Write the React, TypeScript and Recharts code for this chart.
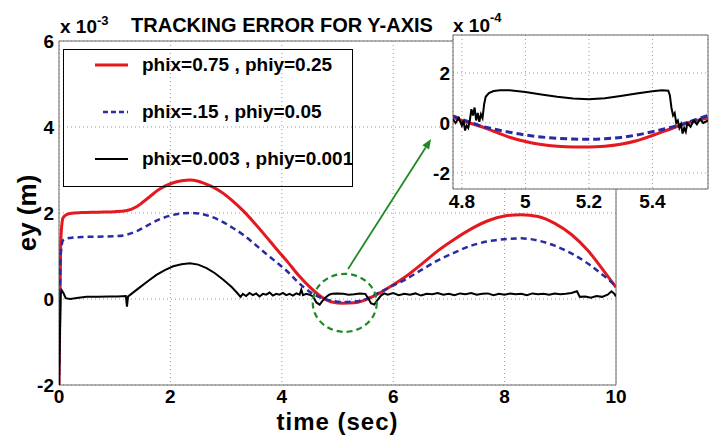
import React from 'react';
import {
  LineChart, Line, XAxis, YAxis, CartesianGrid, ReferenceArea, ReferenceDot, ReferenceLine, Legend,
} from 'recharts';

const FONT = '"Liberation Sans", Arial, Helvetica, sans-serif';

// ---------- main plot data (ey in units of 1e-3 m) ----------
const tMain = [
  0, 0.03, 0.07, 0.12, 0.2, 0.4, 0.7, 1.0, 1.2, 1.4,
  1.6, 1.8, 2.0, 2.2, 2.35, 2.5, 2.7, 2.9, 3.1, 3.3,
  3.5, 3.7, 3.9, 4.1, 4.3, 4.5, 4.7, 4.9, 5.1, 5.3,
  5.5, 5.7, 5.9, 6.2, 6.5, 6.8, 7.1, 7.4, 7.7, 8.0,
  8.3, 8.6, 8.9, 9.2, 9.5, 9.8, 10,
];
const redMain = [
  -2.0, 1.3, 1.88, 1.95, 1.99, 2.01, 2.02, 2.03, 2.05, 2.15,
  2.35, 2.55, 2.68, 2.75, 2.77, 2.74, 2.64, 2.5, 2.3, 2.06,
  1.78, 1.48, 1.17, 0.87, 0.55, 0.28, 0.06, -0.07, -0.1, -0.09,
  -0.02, 0.1, 0.25, 0.5, 0.8, 1.12, 1.39, 1.63, 1.82, 1.93,
  1.96, 1.92, 1.76, 1.5, 1.12, 0.62, 0.27,
];
const blueMain = [
  -2.0, 1.0, 1.36, 1.4, 1.42, 1.44, 1.45, 1.46, 1.49, 1.58,
  1.72, 1.85, 1.94, 1.99, 2.0, 1.99, 1.93, 1.82, 1.67, 1.5,
  1.29, 1.07, 0.86, 0.64, 0.38, 0.17, 0.03, -0.04, -0.07, -0.06,
  -0.01, 0.12, 0.25, 0.44, 0.67, 0.9, 1.08, 1.24, 1.34, 1.39,
  1.41, 1.36, 1.24, 1.06, 0.82, 0.52, 0.3,
];
const tBlack = [
  0, 0.03, 0.05, 0.08, 0.12, 0.2, 0.35, 0.5, 0.7, 0.9,
  1.05, 1.2, 1.22, 1.24, 1.3, 1.45, 1.6, 1.75, 1.9, 2.05,
  2.2, 2.35, 2.5, 2.65, 2.8, 2.95, 3.1, 3.2, 3.26, 3.3,
  3.36, 3.42, 3.48, 3.54, 3.6, 3.66, 3.72, 3.78, 3.84, 3.9,
  3.96, 4.02, 4.08, 4.14, 4.2, 4.26, 4.32, 4.35, 4.38, 4.44,
  4.5, 4.56, 4.62, 4.68, 4.72, 4.78, 4.85, 4.9, 5.0, 5.1,
  5.2, 5.3, 5.4, 5.5, 5.55, 5.6, 5.66, 5.72, 5.78, 5.84,
  5.9, 6.0, 6.1, 6.2, 6.3, 6.4, 6.5, 6.6, 6.7, 6.8,
  6.9, 7.0, 7.1, 7.2, 7.3, 7.4, 7.5, 7.6, 7.7, 7.8,
  7.9, 8.0, 8.1, 8.2, 8.3, 8.4, 8.5, 8.6, 8.7, 8.8,
  8.9, 9.0, 9.1, 9.2, 9.3, 9.35, 9.45, 9.55, 9.65, 9.75,
  9.85, 9.92, 9.97, 10,
];
const blackMain = [
  -2.0, 0.1, 0.2, 0.14, 0.02, 0.0, 0.03, 0.05, 0.05, 0.06,
  0.06, 0.07, -0.18, 0.06, 0.12, 0.27, 0.42, 0.56, 0.67, 0.76,
  0.81, 0.83, 0.8, 0.72, 0.6, 0.45, 0.28, 0.14, 0.05, 0.12,
  0.07, 0.14, 0.09, 0.13, 0.06, 0.12, 0.1, 0.15, 0.08, 0.12,
  0.1, 0.14, 0.09, 0.12, 0.08, 0.13, 0.1, 0.22, 0.09, 0.12,
  0.1, 0.06, -0.08, -0.13, -0.06, 0.03, 0.1, 0.12, 0.13, 0.12,
  0.1, 0.11, 0.13, 0.12, 0.02, -0.1, -0.13, -0.02, 0.08, 0.13,
  0.1, 0.14, 0.09, 0.12, 0.1, 0.13, 0.08, 0.12, 0.11, 0.14,
  0.1, 0.12, 0.09, 0.13, 0.11, 0.14, 0.1, 0.12, 0.13, 0.09,
  0.12, 0.1, 0.13, 0.11, 0.12, 0.09, 0.13, 0.11, 0.12, 0.1,
  0.13, 0.11, 0.12, 0.14, 0.18, 0.05, 0.06, 0.03, 0.07, 0.05,
  0.1, 0.18, 0.12, 0.06,
];

// ---------- inset data (ey in units of 1e-4 m) ----------
const tInset = [
  4.772, 4.8, 4.83, 4.86, 4.9, 4.95, 5.0, 5.05, 5.1, 5.15,
  5.2, 5.25, 5.3, 5.35, 5.4, 5.45, 5.5, 5.54, 5.575,
];
const redInset = [
  0.22, 0.1, -0.02, -0.14, -0.33, -0.57, -0.74, -0.86, -0.93, -0.96,
  -0.96, -0.93, -0.85, -0.71, -0.5, -0.27, -0.04, 0.1, 0.2,
];
const blueInset = [
  0.28, 0.14, 0.02, -0.12, -0.24, -0.37, -0.48, -0.56, -0.61, -0.64,
  -0.65, -0.63, -0.58, -0.48, -0.35, -0.2, -0.02, 0.15, 0.3,
];
const tBlackInset = [
  4.772, 4.78, 4.79, 4.8, 4.805, 4.81, 4.815, 4.82, 4.825, 4.83,
  4.835, 4.84, 4.845, 4.85, 4.855, 4.86, 4.865, 4.87, 4.875, 4.885,
  4.9, 4.92, 4.95, 5.0, 5.05, 5.1, 5.15, 5.2, 5.25, 5.3,
  5.35, 5.4, 5.43, 5.45, 5.455, 5.46, 5.465, 5.47, 5.475, 5.48,
  5.485, 5.49, 5.495, 5.5, 5.505, 5.51, 5.52, 5.53, 5.54, 5.55,
  5.56, 5.575,
];
const blackInset = [
  0.15, 0.0, 0.2, -0.1, 0.1, -0.3, -0.1, -0.2, 0.1, 0.55,
  0.3, 0.62, 0.1, 0.4, 0.05, 0.35, 0.2, 0.75, 1.05, 1.2,
  1.28, 1.31, 1.31, 1.24, 1.14, 1.05, 0.98, 0.95, 0.99, 1.08,
  1.18, 1.27, 1.31, 1.29, 1.1, 0.6, 0.3, 0.4, 0.0, 0.1,
  -0.2, -0.05, -0.42, -0.2, -0.35, 0.0, -0.15, 0.1, -0.05, 0.15,
  0.0, 0.1,
];

// ---------- ticks / labels ----------
const xTicksMain = [0, 2, 4, 6, 8, 10];
const yTicksMain = [-2, 0, 2, 4, 6];
const xTicksInset = [4.8, 5, 5.2, 5.4];
const yTicksInset = [-2, 0, 2];
const seriesLabels = ['phix=0.75 , phiy=0.25', 'phix=.15 , phiy=0.05', 'phix=0.003 , phiy=0.001'];
const seriesColors = ['#e3191f', '#2a2aa3', '#000000'];
const seriesDash = [undefined, '6 4', undefined];
const seriesWidths = [3, 2.5, 2];
const titleText = 'TRACKING ERROR FOR Y-AXIS';
const xLabel = 'time (sec)';
const yLabel = 'ey (m)';
const circleCenter = { t: 5.13, v: -0.09 };
const arrowSegment = [{ x: 5.19, y: 0.7 }, { x: 6.68, y: 3.72 }];

const zip = (t: number[], v: number[]) => t.map((x, i) => ({ t: x, v: v[i] }));

const redMainData = zip(tMain, redMain);
const blueMainData = zip(tMain, blueMain);
const blackMainData = zip(tBlack, blackMain);
const redInsetData = zip(tInset, redInset);
const blueInsetData = zip(tInset, blueInset);
const blackInsetData = zip(tBlackInset, blackInset);

const tickStyle = { fontSize: 19, fontWeight: 'bold', fill: '#000', fontFamily: FONT };
const GREEN = '#1f8a24';

const LegendBox = () => (
  <div
    style={{
      position: 'relative', width: 290, height: 138, border: '1px solid #000', boxSizing: 'border-box',
      fontFamily: FONT, fontWeight: 'bold', fontSize: 19, color: '#000',
    }}
  >
    {seriesLabels.map((label, i) => (
      <div
        key={label}
        style={{ position: 'absolute', left: 0, top: 3 + i * 47, height: 24, display: 'flex', alignItems: 'center', whiteSpace: 'nowrap' }}
      >
        <svg width={78} height={24} style={{ display: 'block' }}>
          <line
            x1={i === 1 ? 39 : 31} x2={64} y1={12} y2={12}
            stroke={seriesColors[i]} strokeWidth={i === 1 ? 2.5 : seriesWidths[i]}
            strokeDasharray={i === 1 ? '5 3' : undefined}
          />
        </svg>
        <span>{label}</span>
      </div>
    ))}
  </div>
);

const Arrow = (p: any) => {
  const { x1, y1, x2, y2 } = p;
  if ([x1, y1, x2, y2].some((v) => typeof v !== 'number')) return null;
  const ang = Math.atan2(y2 - y1, x2 - x1);
  const L = 10, W = 4;
  const bx = x2 - L * Math.cos(ang), by = y2 - L * Math.sin(ang);
  const px = -Math.sin(ang) * W, py = Math.cos(ang) * W;
  return (
    <g>
      <line x1={x1} y1={y1} x2={bx} y2={by} stroke={GREEN} strokeWidth={1.8} />
      <polygon points={`${x2},${y2} ${bx + px},${by + py} ${bx - px},${by - py}`} fill={GREEN} />
    </g>
  );
};

const Ellipse = (p: any) => (
  <ellipse cx={p.cx} cy={p.cy} rx={32} ry={29} fill="none" stroke={GREEN} strokeWidth={2.2} strokeDasharray="6 4" />
);

export default function App() {
  return (
    <div style={{ position: 'absolute', left: 0, top: 0, width: 726, height: 436, background: '#fff', overflow: 'hidden' }}>
      <div style={{ position: 'absolute', left: 0, top: 0 }}>
        <LineChart width={726} height={436} margin={{ top: 41, right: 110, bottom: 0, left: 0 }}>
          <CartesianGrid stroke="#9a9a9a" strokeDasharray="1 3" />
          <XAxis
            type="number" dataKey="t" domain={[0, 10]} ticks={xTicksMain} allowDataOverflow
            height={51} tickLine={false} axisLine={false} tickSize={3} tickMargin={2} tick={tickStyle}
            label={{ value: xLabel, position: 'center', dy: 11, style: { fontSize: 24, fontWeight: 'bold', fill: '#000', fontFamily: FONT, letterSpacing: 1 } }}
          />
          <YAxis
            type="number" domain={[-2, 6]} ticks={yTicksMain} allowDataOverflow
            width={59} tickLine={false} axisLine={false} tickSize={3} tickMargin={2} tick={tickStyle}
            label={{ value: yLabel, angle: -90, position: 'center', dx: -3, style: { fontSize: 26, fontWeight: 'bold', fill: '#000', fontFamily: FONT, textAnchor: 'middle' } }}
          />
          <ReferenceArea x1={0} x2={10} y1={-2} y2={6} fill="none" stroke="#6a6a6a" strokeWidth={1} ifOverflow="visible" />
          <Line data={redMainData} dataKey="v" name={seriesLabels[0]} type="monotone" stroke={seriesColors[0]} strokeWidth={seriesWidths[0]} dot={false} isAnimationActive={false} />
          <Line data={blueMainData} dataKey="v" name={seriesLabels[1]} type="monotone" stroke={seriesColors[1]} strokeWidth={seriesWidths[1]} strokeDasharray={seriesDash[1]} dot={false} isAnimationActive={false} />
          <Line data={blackMainData} dataKey="v" name={seriesLabels[2]} type="linear" stroke={seriesColors[2]} strokeWidth={seriesWidths[2]} dot={false} isAnimationActive={false} />
          <ReferenceDot x={circleCenter.t} y={circleCenter.v} r={30} shape={Ellipse} ifOverflow="visible" />
          <ReferenceLine segment={arrowSegment} shape={Arrow} ifOverflow="visible" />
          <Legend
            layout="vertical" align="center" verticalAlign="middle"
            wrapperStyle={{ left: 63, top: 49, width: 290, height: 138 }}
            content={() => <LegendBox />}
          />
        </LineChart>
      </div>

      <div style={{ position: 'absolute', left: 400, top: 0 }}>
        <LineChart width={326} height={215} margin={{ top: 35, right: 18, bottom: 0, left: 0 }}>
          <CartesianGrid stroke="#9a9a9a" strokeDasharray="1 3" fill="#ffffff" fillOpacity={1} />
          <XAxis
            type="number" dataKey="t" domain={[4.772, 5.575]} ticks={xTicksInset} allowDataOverflow
            height={26} tickLine={false} axisLine={false} tickSize={4} tickMargin={2} tick={tickStyle}
            tickFormatter={(v: number) => String(v)}
          />
          <YAxis
            type="number" domain={[-2.64, 3.52]} ticks={yTicksInset} allowDataOverflow
            width={53} tickLine={false} axisLine={false} tickSize={1} tickMargin={2} tick={tickStyle}
          />
          <ReferenceArea x1={4.772} x2={5.575} y1={-2.64} y2={3.52} fill="none" stroke="#6a6a6a" strokeWidth={1} ifOverflow="visible" />
          <Line data={redInsetData} dataKey="v" type="monotone" stroke={seriesColors[0]} strokeWidth={3} dot={false} isAnimationActive={false} />
          <Line data={blueInsetData} dataKey="v" type="monotone" stroke={seriesColors[1]} strokeWidth={3} strokeDasharray="7 4" dot={false} isAnimationActive={false} />
          <Line data={blackInsetData} dataKey="v" type="linear" stroke={seriesColors[2]} strokeWidth={2} dot={false} isAnimationActive={false} />
        </LineChart>
      </div>

      <svg width={726} height={436} style={{ position: 'absolute', left: 0, top: 0, pointerEvents: 'none' }}>
        <text x={282} y={32} textAnchor="middle" fontFamily={FONT} fontWeight="bold" fontSize={20} fill="#000">{titleText}</text>
        <text x={60} y={33} fontFamily={FONT} fontWeight="bold" fontSize={19} fill="#000">
          x 10<tspan dy={-8} fontSize={13}>-3</tspan>
        </text>
        <text x={453} y={32} fontFamily={FONT} fontWeight="bold" fontSize={19} fill="#000">
          x 10<tspan dy={-10} fontSize={13}>-4</tspan>
        </text>
      </svg>
    </div>
  );
}
